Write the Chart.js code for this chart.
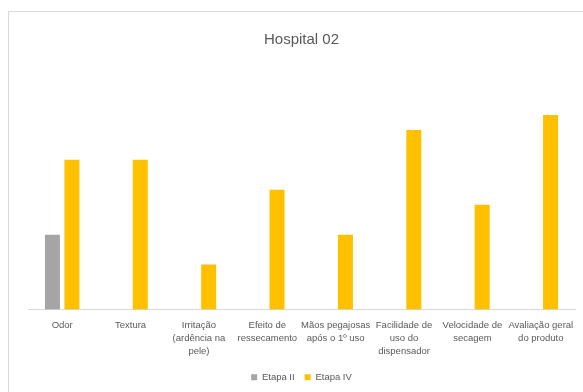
<!DOCTYPE html>
<html>
<head>
<meta charset="utf-8">
<script src="https://cdn.jsdelivr.net/npm/chart.js@4"></script>
<style>
  html, body { margin: 0; padding: 0; background: #fff; }
  #wrap { position: relative; width: 583px; height: 392px; overflow: hidden; }
  #frame { position: absolute; left: 8px; top: 11px; width: 600px; height: 400px;
           border-left: 1px solid #d9d9d9; border-top: 1px solid #d9d9d9; pointer-events: none; }
  canvas { position: absolute; left: 0; top: 0; }
</style>
</head>
<body>
<div id="wrap">
  <canvas id="c" width="583" height="392"></canvas>
  <div id="frame"></div>
</div>
<script>
const categories = [
  ['Odor'],
  ['Textura'],
  ['Irritação', '(ardência na', 'pele)'],
  ['Efeito de', 'ressecamento'],
  ['Mãos pegajosas', 'após o 1º uso'],
  ['Facilidade de', 'uso do', 'dispensador'],
  ['Velocidade de', 'secagem'],
  ['Avaliação geral', 'do produto']
];
const etapaII = [5, 0, 0, 0, 0, 0, 0, 0];
const etapaIV = [10, 10, 3, 8, 5, 12, 7, 13];

const FONT = "'Liberation Sans', 'DejaVu Sans', sans-serif";
const TEXT = '#595959';

new Chart(document.getElementById('c'), {
  type: 'bar',
  data: {
    labels: categories,
    datasets: [
      { label: 'Etapa II', data: etapaII, backgroundColor: '#A5A5A5' },
      { label: 'Etapa IV', data: etapaIV, backgroundColor: '#FFC000' }
    ]
  },
  options: {
    responsive: false,
    animation: false,
    devicePixelRatio: 1,
    categoryPercentage: 0.57,
    barPercentage: 0.77,
    layout: { padding: { left: 28, right: 8, top: 0, bottom: 0 } },
    plugins: {
      tooltip: { enabled: false },
      title: {
        display: true,
        text: 'Hospital 02',
        color: TEXT,
        font: { family: FONT, size: 15, weight: 'normal' },
        padding: { top: 31, bottom: 21 }
      },
      legend: {
        position: 'bottom',
        labels: {
          color: TEXT,
          font: { family: FONT, size: 9.5 },
          boxWidth: 6,
          boxHeight: 6,
          padding: 10
        }
      }
    },
    scales: {
      x: {
        grid: { display: false },
        border: { display: true, color: '#d9d9d9', width: 1 },
        ticks: {
          color: TEXT,
          font: { family: FONT, size: 9.5, lineHeight: 1.4 },
          padding: 1,
          maxRotation: 0,
          autoSkip: false
        },
        afterFit: (s) => { s.height = 53; }
      },
      y: {
        display: false,
        min: 0,
        max: 16
      }
    }
  }
});
</script>
</body>
</html>
